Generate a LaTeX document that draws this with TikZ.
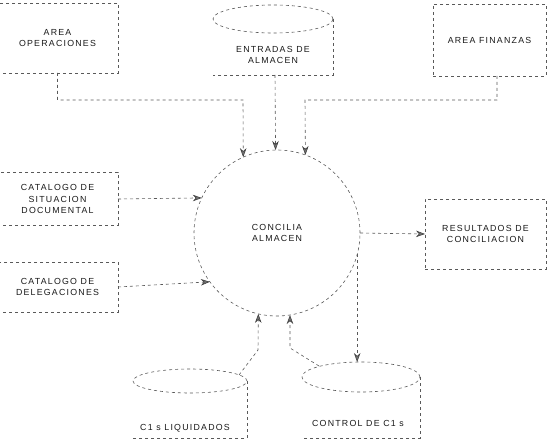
\documentclass[tikz,border=0pt]{standalone}
\usepackage{fontspec}
\setmainfont{Liberation Sans}
\newfontfamily\lblfont[LetterSpace=14]{Liberation Sans}
\usetikzlibrary{arrows.meta,shapes.geometric}
\begin{document}
\begin{tikzpicture}[x=1pt,y=-1pt,
  lbl/.style={font=\lblfont\fontsize{8.8}{11.5}\selectfont, align=center, text=black!90},
  ln/.style={draw=black!65, line width=0.6pt, dash pattern=on 3pt off 3pt},
  entbox/.style={ln, lbl, rectangle, inner sep=0pt, outer sep=0pt},
  procnode/.style={ln, lbl, circle, minimum size=166pt, inner sep=0pt, outer sep=0pt},
  flow/.style={ln, -{Stealth[length=9pt,width=6.5pt,fill=black!55,color=black!75]}},
]
\useasboundingbox (0,0) rectangle (548,443);

% external entities
\node[entbox, minimum width=121pt, minimum height=70pt] (opr) at (57.5,38) {AREA\\OPERACIONES};
\node[entbox, minimum width=113pt, minimum height=72pt] (fin) at (489.5,40) {AREA FINANZAS};
\node[entbox, minimum width=121pt, minimum height=53pt] (cat1) at (57.5,199) {CATALOGO DE\\SITUACION\\DOCUMENTAL};
\node[entbox, minimum width=121pt, minimum height=50pt] (cat2) at (57.5,287) {CATALOGO DE\\DELEGACIONES};
\node[entbox, minimum width=121pt, minimum height=70pt] (res) at (485.5,234) {RESULTADOS DE\\CONCILIACION};

% process
\node[procnode] (proc) at (277,233) {CONCILIA\\ALMACEN};

% data stores
\draw[ln] (273,19) ellipse [x radius=60pt, y radius=14pt];
\draw[ln] (333,19) -- (333,75) -- (213,75);
\node[lbl] (entT) at (273,55) {ENTRADAS DE\\ALMACEN};

\draw[ln] (190,381) ellipse [x radius=57pt, y radius=12pt];
\draw[ln] (247,381) -- (247,438) -- (133,438);
\node[lbl] (liqT) at (185,428) {C1 s LIQUIDADOS};

\draw[ln] (361,377) ellipse [x radius=59pt, y radius=15pt];
\draw[ln] (420,377) -- (420,438) -- (302,438);
\node[lbl] (ctlT) at (358,423) {CONTROL DE C1 s};

% flow points
\coordinate (o1) at (57.5,100);
\coordinate (o2) at (243,100);
\coordinate (entB) at (275,75);
\coordinate (finB) at (497,76);
\coordinate (f1) at (497,100);
\coordinate (f2) at (305,100);
\coordinate (liqA) at (239,375);
\coordinate (l2) at (258,350);
\coordinate (ctlA) at (319,366);
\coordinate (c2) at (290,348);
\coordinate (ctlTop) at (357,362);

% flows
\draw[flow] (opr.south) -- (o1) -- (o2) -- (proc.114.2);
\draw[flow] (entB) -- (proc.91.4);
\draw[flow] (finB) -- (f1) -- (f2) -- (proc.70.3);
\draw[flow] (cat1.east) -- (proc.155.4);
\draw[flow] (cat2.east) -- (proc.216);
\draw[flow] (proc.east) -- (res.west);
\draw[flow] (liqA) -- (l2) -- (proc.-103.2);
\draw[flow] (ctlA) -- (c2) -- (proc.-81);
\draw[flow] (proc.-15.4) -- (proc.-15.4 |- ctlTop);
\end{tikzpicture}
\end{document}
